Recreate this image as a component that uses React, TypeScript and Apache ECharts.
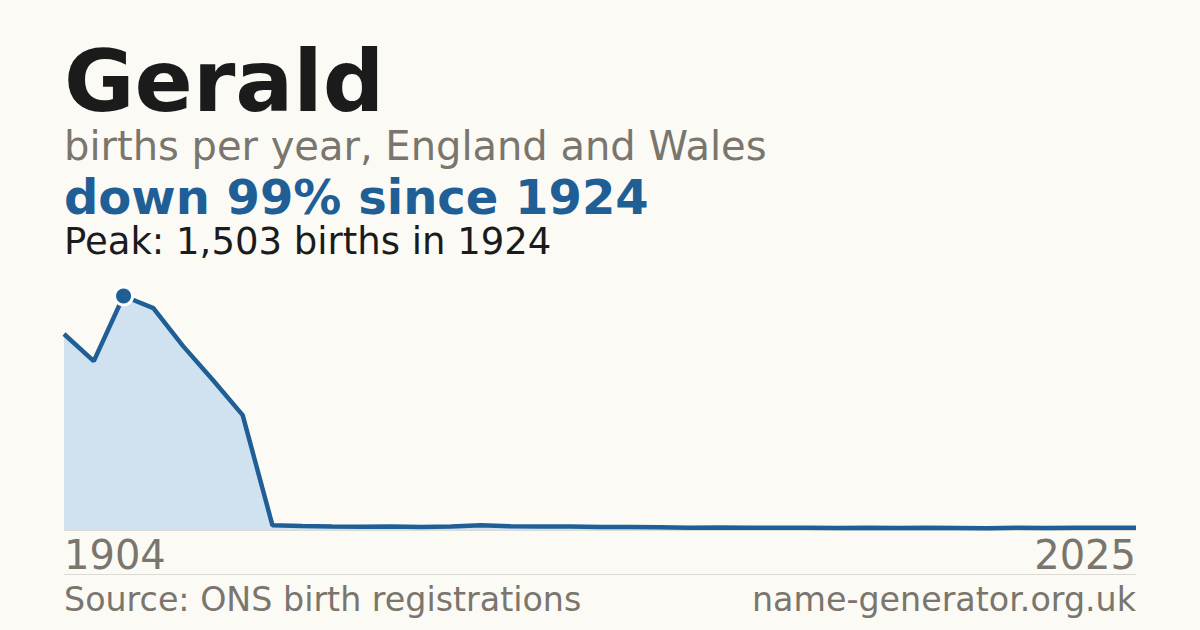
import * as echarts from 'echarts';
import { useEffect, useRef } from 'react';

// decade samples to 1964, then annual from 1996
const years = [
  '1904', '1914', '1924', '1934', '1944', '1954', '1964',
  '1996', '1997', '1998', '1999', '2000', '2001', '2002', '2003', '2004', '2005',
  '2006', '2007', '2008', '2009', '2010', '2011', '2012', '2013', '2014', '2015',
  '2016', '2017', '2018', '2019', '2020', '2021', '2022', '2023', '2024', '2025',
];
const births = [
  1259, 1085, 1503, 1425, 1181, 963, 738,
  30, 25, 22, 21, 22, 20, 22, 30, 24, 22,
  23, 20, 19, 17, 15, 16, 14, 14, 15, 13,
  14, 13, 14, 13, 12, 14, 13, 15, 15, 15,
];

const BLUE = '#1f5f96';
const GREY = '#7a756d';
const FONT = '"DejaVu Sans", sans-serif';

export default function App() {
  const ref = useRef<HTMLDivElement | null>(null);

  useEffect(() => {
    document.body.style.margin = '0';
    if (!ref.current) return undefined;
    const chart = echarts.init(ref.current, undefined, { renderer: 'svg' });

    const peak = Math.max(...births);
    const peakIdx = births.indexOf(peak);
    const last = years.length - 1;

    const label = (y: number, text: string, font: string, fill: string, align = 'left') => ({
      type: 'text',
      style: { x: align === 'right' ? 1136 : 64, y, text, font, fill, align, verticalAlign: 'top' },
    });

    chart.setOption({
      animation: false,
      backgroundColor: '#fbfaf5',
      grid: { left: 64, right: 64, top: 296, bottom: 100 },
      xAxis: {
        type: 'category',
        data: years,
        boundaryGap: false,
        axisTick: { show: false },
        axisLine: { lineStyle: { color: '#dcdad4', width: 1 } },
        axisLabel: {
          interval: (i: number) => i === 0 || i === last,
          alignMinLabel: 'left',
          alignMaxLabel: 'right',
          color: GREY,
          fontFamily: FONT,
          fontSize: 40,
          margin: 5,
        },
      },
      yAxis: {
        type: 'value',
        min: 0,
        max: peak,
        show: false,
        splitLine: { show: false },
      },
      series: [
        {
          type: 'line',
          data: births,
          symbol: 'none',
          lineStyle: { color: BLUE, width: 4.5 },
          areaStyle: { color: '#d0e1f0', opacity: 1 },
          z: 2,
        },
        {
          type: 'scatter',
          data: [[peakIdx, peak]],
          symbol: 'circle',
          symbolSize: 18,
          itemStyle: { color: BLUE, borderColor: '#ffffff', borderWidth: 3, opacity: 1 },
          z: 3,
        },
      ],
      graphic: [
        label(38, 'Gerald', `bold 86px ${FONT}`, '#1b1b1b'),
        label(126, 'births per year, England and Wales', `40px ${FONT}`, GREY),
        label(173, `down 99% since ${years[peakIdx]}`, `bold 48px ${FONT}`, BLUE),
        label(223, `Peak: ${peak.toLocaleString('en-GB')} births in ${years[peakIdx]}`, `37px ${FONT}`, '#1b1b1b'),
        {
          type: 'line',
          shape: { x1: 64, y1: 574.5, x2: 1136, y2: 574.5 },
          style: { stroke: '#dcdad4', lineWidth: 1 },
        },
        label(583, 'Source: ONS birth registrations', `33.3px ${FONT}`, GREY),
        label(583, 'name-generator.org.uk', `33.3px ${FONT}`, GREY, 'right'),
      ],
    });

    return () => chart.dispose();
  }, []);

  return <div ref={ref} style={{ width: 1200, height: 630 }} />;
}
